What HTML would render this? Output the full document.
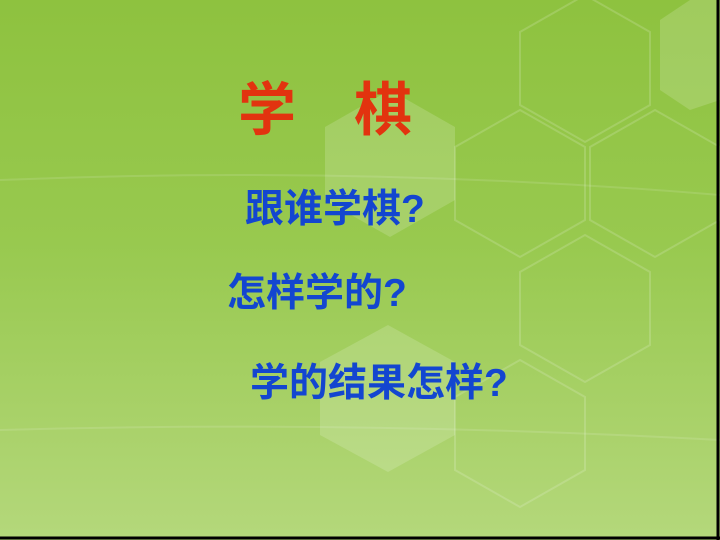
<!DOCTYPE html>
<html><head><meta charset="utf-8">
<style>
html,body{margin:0;padding:0}
#slide{position:relative;width:720px;height:540px;overflow:hidden;
background:linear-gradient(180deg,#8ec23f 0%,#98c94f 45%,#aad26b 80%,#b4d87b 100%);
font-family:"Liberation Sans","Noto Sans CJK SC",sans-serif;font-weight:bold}
svg{position:absolute;left:0;top:0}
.t{position:absolute;white-space:nowrap}
</style></head><body>
<div id="slide">
<svg width="720" height="540">
 <g fill="none" stroke="rgba(255,255,255,0.16)" stroke-width="2">
  <polygon points="585,-5 650,32 650,105 585,142 520,105 520,32"/>
  <polygon points="520,110 585,147 585,220 520,257 455,220 455,147"/>
  <polygon points="655,110 720,147 720,220 655,257 590,220 590,147"/>
  <polygon points="585,235 650,272 650,345 585,382 520,345 520,272"/>
  <polygon points="520,360 585,397 585,470 520,507 455,470 455,397"/>
 </g>
 <g fill="rgba(255,255,255,0.16)">
  <polygon points="390,90 455,127 455,200 390,237 325,200 325,127"/>
  <polygon points="388,325 455,362 455,435 388,472 320,435 320,362"/>
  <polygon points="720,0 720,100 690,110 660,90 660,20 690,0"/>
 </g>
 <path d="M0,180 Q360,165 720,195" stroke="rgba(255,255,255,0.12)" stroke-width="2" fill="none"/>
 <path d="M0,430 Q360,420 720,440" stroke="rgba(255,255,255,0.12)" stroke-width="2" fill="none"/>
 <line x1="718" y1="0" x2="718" y2="540" stroke="#000" stroke-width="3"/>
 <line x1="0" y1="538" x2="720" y2="538" stroke="#000" stroke-width="3"/>
</svg>
<div class="t" style="left:238px;top:78px;font-size:58px;color:#e2330f;line-height:66px">学</div>
<div class="t" style="left:354px;top:78px;font-size:58px;color:#e2330f;line-height:66px">棋</div>
<div class="t" style="left:245px;top:186px;font-size:39px;color:#1346d0;line-height:48px">跟谁学棋?</div>
<div class="t" style="left:227px;top:270px;font-size:39px;color:#1346d0;line-height:48px">怎样学的?</div>
<div class="t" style="left:250px;top:360px;font-size:39px;color:#1346d0;line-height:48px">学的结果怎样?</div>
</div>
</body></html>
